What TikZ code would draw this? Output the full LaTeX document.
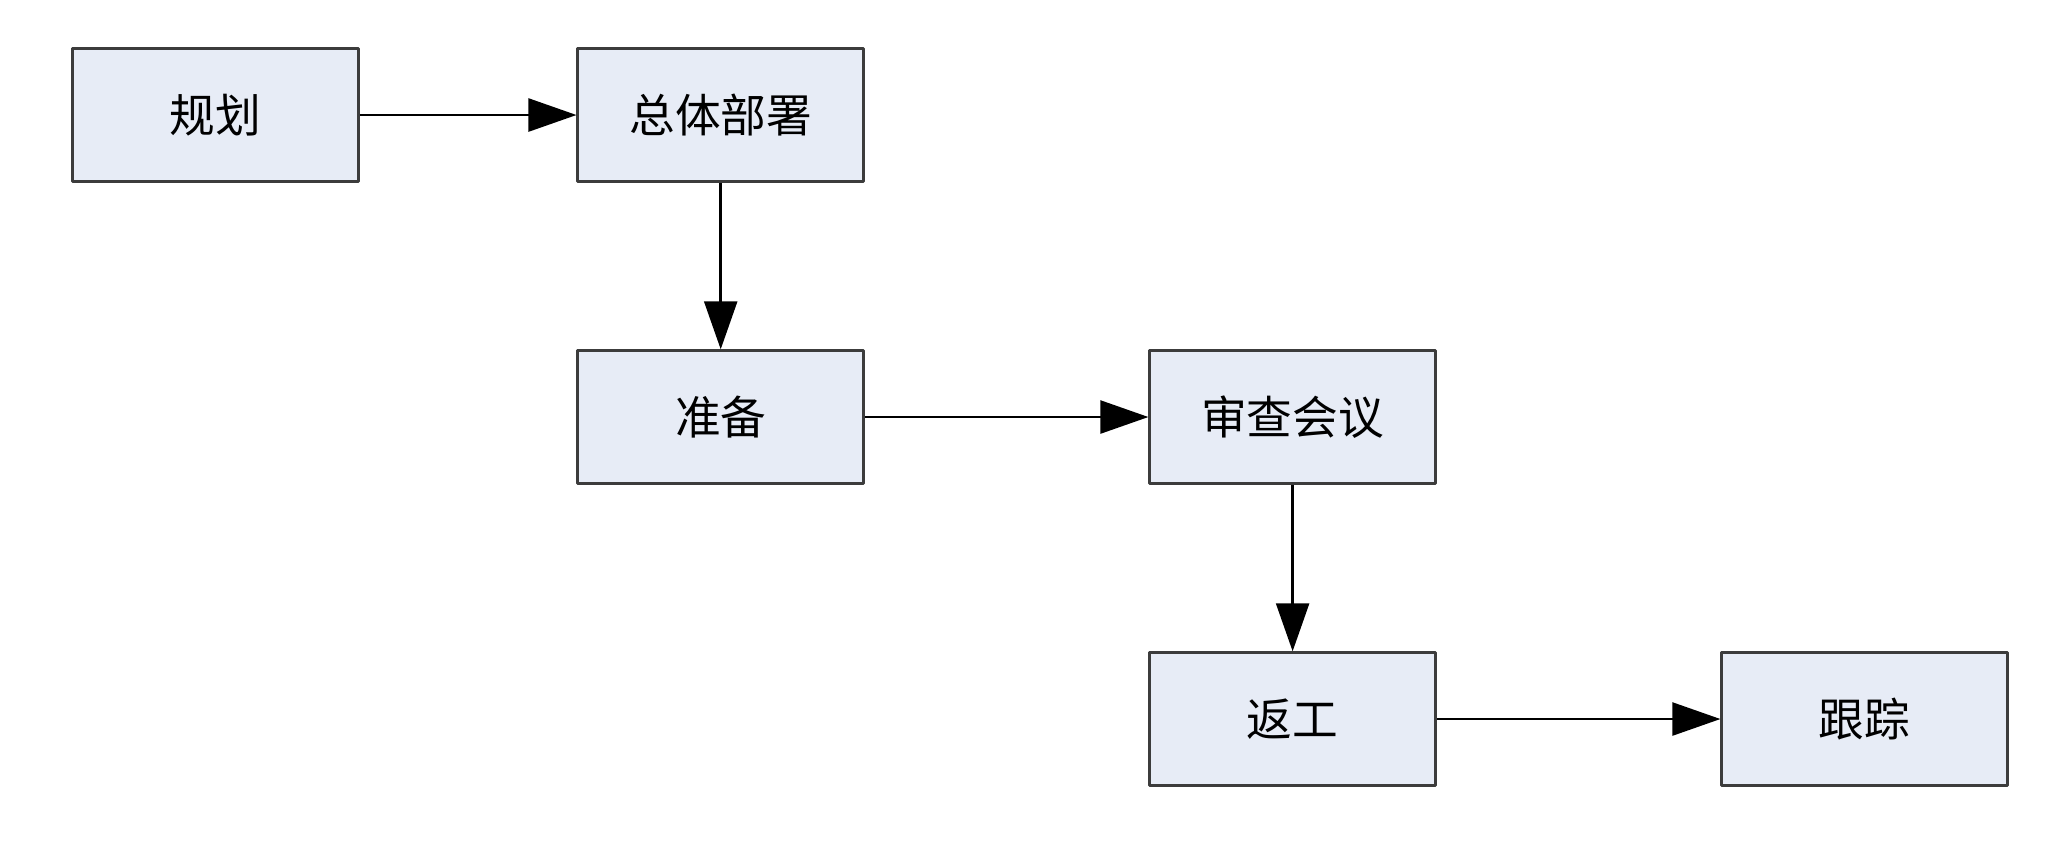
\documentclass[tikz,border=0pt]{standalone}
\usepackage{fontspec}
\newfontfamily\cjk{Noto Sans CJK SC}
\usepackage{tikz}
\usetikzlibrary{arrows.meta}

\definecolor{boxfill}{HTML}{E7ECF6}
\definecolor{boxline}{HTML}{3C3C3C}

\begin{document}
\begin{tikzpicture}[>={Triangle[length=4.8mm,width=3.3mm]}, line join=round,
    stage/.style={draw=boxline,line width=0.7pt,fill=boxfill,minimum width=2.86cm,
      minimum height=1.33cm,inner sep=0pt,font=\cjk\fontsize{13}{15}\selectfont},
    flow/.style={->,line width=0.7pt,black}]
  \useasboundingbox (0,0) rectangle (20.68,-8.56);
  \node[stage] (plan)   at (2.156,-1.15)  {规划};
  \node[stage] (deploy) at (7.207,-1.15)  {总体部署};
  \node[stage] (prep)   at (7.207,-4.17)  {准备};
  \node[stage] (review) at (12.926,-4.17) {审查会议};
  \node[stage] (rework) at (12.926,-7.19) {返工};
  \node[stage] (track)  at (18.646,-7.19) {跟踪};
  \draw[flow] (plan) -- (deploy);
  \draw[flow] (deploy) -- (prep);
  \draw[flow] (prep) -- (review);
  \draw[flow] (review) -- (rework);
  \draw[flow] (rework) -- (track);
\end{tikzpicture}
\end{document}
